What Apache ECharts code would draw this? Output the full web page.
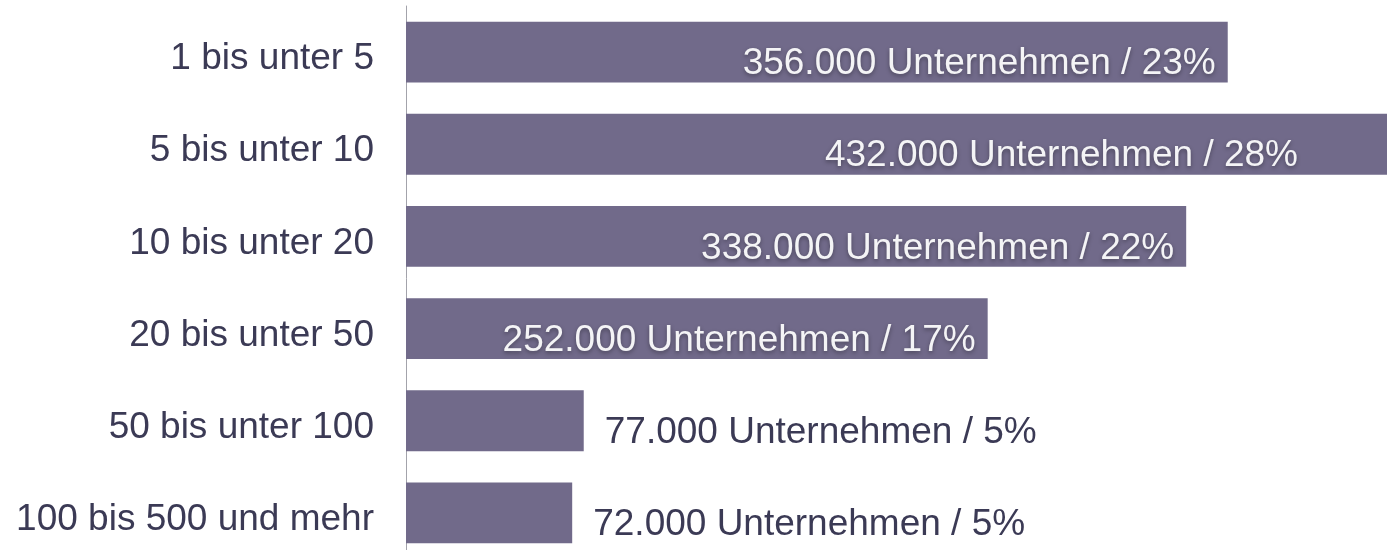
<!DOCTYPE html>
<html>
<head>
<meta charset="utf-8">
<script src="https://cdn.jsdelivr.net/npm/echarts@6/dist/echarts.min.js"></script>
<style>
  html, body { margin: 0; padding: 0; background: #fff; }
  #chart { width: 1387px; height: 550px; }
</style>
</head>
<body>
<div id="chart"></div>
<script>
// Unternehmen nach Beschäftigtengrößenklassen
const categories = ['1 bis unter 5', '5 bis unter 10', '10 bis unter 20', '20 bis unter 50', '50 bis unter 100', '100 bis 500 und mehr'];
const companies = [356000, 432000, 338000, 252000, 77000, 72000];
const shares = [23, 28, 22, 17, 5, 5];

const axisMax = 425000;
const barColor = '#716a8a';
const textDark = '#3b3a55';
const font = '"Liberation Sans", Arial, sans-serif';

const fmt = (v) => (v / 1000).toFixed(0) + '.000';

const seriesData = companies.map((v, i) => {
  const inside = v > 150000;
  return {
    value: v,
    label: inside ? {
      position: 'insideRight',
      distance: 12,
      color: '#f4f4f6',
      textShadowColor: 'rgba(0,0,0,0.35)',
      textShadowBlur: 4,
      textShadowOffsetY: 2,
      offset: v > axisMax ? [-77, 12] : [0, 12]
    } : {
      position: 'right',
      distance: 21,
      color: textDark,
      offset: [0, 12]
    }
  };
});

const chart = echarts.init(document.getElementById('chart'));

chart.setOption({
  animation: false,
  grid: { left: 406, right: 0, top: 6, height: 553, containLabel: false, outerBoundsMode: 'none' },
  xAxis: {
    type: 'value',
    min: 0,
    max: axisMax,
    show: false
  },
  yAxis: {
    type: 'category',
    inverse: true,
    data: categories,
    axisLine: { show: true, lineStyle: { color: '#a3a3ab', width: 1 } },
    axisTick: { show: false },
    axisLabel: {
      margin: 32,
      formatter: (v) => '{c|' + v + '}',
      rich: {
        c: {
          color: textDark,
          fontSize: 37,
          fontFamily: font,
          padding: [14, 0, 0, 0]
        }
      }
    }
  },
  series: [{
    type: 'bar',
    data: seriesData,
    barCategoryGap: '34%',
    clip: true,
    itemStyle: { color: barColor },
    label: {
      show: true,
      fontSize: 37,
      fontFamily: font,
      formatter: (p) => fmt(p.value) + ' Unternehmen / ' + shares[p.dataIndex] + '%'
    }
  }]
});
</script>
</body>
</html>
